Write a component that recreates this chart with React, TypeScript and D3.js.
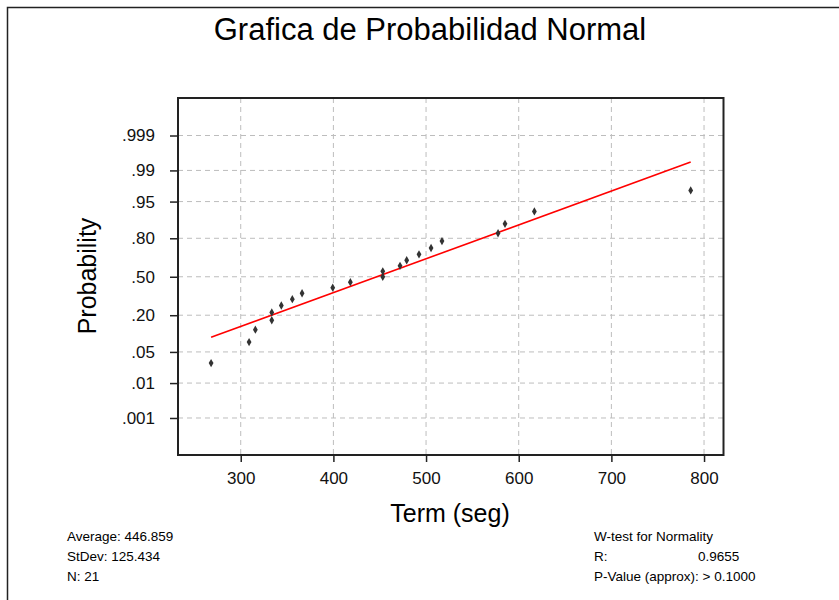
import React, { useRef, useEffect } from 'react';
import { select, scaleLinear, axisBottom, axisLeft, line, symbol, symbolDiamond } from 'd3';

// observed times (seg), sorted
const termValues = [268, 309, 315.8, 333.5, 333.5, 343.8, 355.7, 366.2, 399.3, 418.3, 453.3,
  453.3, 471.9, 479.1, 492.4, 505.4, 517.2, 577.7, 585.2, 616.9, 785.6];
// plotted probability of each point
const probValues = [0.0294, 0.0765, 0.1235, 0.1706, 0.2176, 0.2647, 0.3118, 0.3588, 0.4059, 0.4529, 0.5,
  0.5471, 0.5941, 0.6412, 0.6882, 0.7353, 0.7824, 0.8294, 0.8765, 0.9235, 0.9706];

const probTicks = [0.001, 0.01, 0.05, 0.2, 0.5, 0.8, 0.95, 0.99, 0.999];
const probLabels = ['.001', '.01', '.05', '.20', '.50', '.80', '.95', '.99', '.999'];
const termTicks = [300, 400, 500, 600, 700, 800];

const fitMean = 446.859;
const fitSd = 135;

const statsLeft = ['Average: 446.859', 'StDev: 125.434', 'N: 21'];

// inverse normal cdf (Acklam)
function probit(p) {
  const a = [-39.69683028665376, 220.9460984245205, -275.9285104469687, 138.357751867269, -30.66479806614716, 2.506628277459239];
  const b = [-54.47609879822406, 161.5858368580409, -155.6989798598866, 66.80131188771972, -13.28068155288572];
  const c = [-0.007784894002430293, -0.3223964580411365, -2.400758277161838, -2.549732539343734, 4.374664141464968, 2.938163982698783];
  const d = [0.007784695709041462, 0.3224671290700398, 2.445134137142996, 3.754408661907416];
  const pl = 0.02425;
  if (p < pl) {
    const q = Math.sqrt(-2 * Math.log(p));
    return (((((c[0] * q + c[1]) * q + c[2]) * q + c[3]) * q + c[4]) * q + c[5]) / ((((d[0] * q + d[1]) * q + d[2]) * q + d[3]) * q + 1);
  }
  if (p > 1 - pl) {
    const q = Math.sqrt(-2 * Math.log(1 - p));
    return -(((((c[0] * q + c[1]) * q + c[2]) * q + c[3]) * q + c[4]) * q + c[5]) / ((((d[0] * q + d[1]) * q + d[2]) * q + d[3]) * q + 1);
  }
  const q = p - 0.5;
  const r = q * q;
  return (((((a[0] * r + a[1]) * r + a[2]) * r + a[3]) * r + a[4]) * r + a[5]) * q / (((((b[0] * r + b[1]) * r + b[2]) * r + b[3]) * r + b[4]) * r + 1);
}

const W = 839, H = 600;
const left = 178, right = 723.5, top = 98, bottom = 455;
const font = '"Liberation Sans", Arial, sans-serif';

function ProbPlot() {
  const svgRef = useRef(null);

  useEffect(() => {
    const svg = select(svgRef.current);
    svg.selectAll('*').remove();

    const x = scaleLinear().domain([232.3, 821]).range([left, right]);
    const y = scaleLinear().domain([-3.9, 3.9]).range([bottom, top + 0.5]);

    svg.append('rect').attr('width', W).attr('height', H).attr('fill', '#fff');

    // outer frame
    svg.append('path')
      .attr('d', `M7.5,${H} V7.5 H${W}`)
      .attr('fill', 'none').attr('stroke', '#222').attr('stroke-width', 1.5);

    svg.append('text')
      .attr('x', 430).attr('y', 40)
      .attr('text-anchor', 'middle')
      .style('font-family', font).style('font-size', '31px')
      .text('Grafica de Probabilidad Normal');

    // grid
    const grid = svg.append('g')
      .attr('stroke', '#bdbdbd').attr('stroke-width', 1).attr('stroke-dasharray', '5,4');
    grid.selectAll('.vg').data(termTicks).join('line')
      .attr('class', 'vg')
      .attr('x1', d => x(d)).attr('x2', d => x(d))
      .attr('y1', top).attr('y2', bottom);
    grid.selectAll('.hg').data(probTicks).join('line')
      .attr('class', 'hg')
      .attr('x1', left).attr('x2', right)
      .attr('y1', d => y(probit(d))).attr('y2', d => y(probit(d)));

    // axes
    const xAxis = svg.append('g')
      .attr('transform', `translate(0,${bottom})`)
      .call(axisBottom(x).tickValues(termTicks).tickSize(7).tickPadding(10).tickFormat(d => String(d)));
    const yAxis = svg.append('g')
      .attr('transform', `translate(${left},0)`)
      .call(axisLeft(y)
        .tickValues(probTicks.map(probit)).tickSize(8).tickPadding(15)
        .tickFormat((d, i) => probLabels[i]));
    [xAxis, yAxis].forEach(g => {
      g.select('.domain').remove();
      g.selectAll('line').attr('stroke', '#222').attr('stroke-width', 1.5);
      g.selectAll('text').style('font-family', font).style('font-size', '17px').attr('fill', '#111');
    });

    // plot frame
    svg.append('rect')
      .attr('x', left).attr('y', top)
      .attr('width', right - left).attr('height', bottom - top)
      .attr('fill', 'none').attr('stroke', '#222').attr('stroke-width', 2);

    // fitted line
    const xs = [Math.min(...termValues), Math.max(...termValues)];
    const fitLine = line()
      .x(d => x(d))
      .y(d => y((d - fitMean) / fitSd));
    svg.append('path')
      .attr('d', fitLine(xs))
      .attr('fill', 'none').attr('stroke', '#ff0000').attr('stroke-width', 1.6);

    // points
    const sym = symbol().type(symbolDiamond).size(20);
    svg.selectAll('.pt').data(termValues).join('path')
      .attr('class', 'pt')
      .attr('d', sym)
      .attr('fill', '#333')
      .attr('transform', (d, i) => `translate(${x(d)},${y(probit(probValues[i]))})`);

    // axis titles
    svg.append('text')
      .attr('x', 450).attr('y', 522)
      .attr('text-anchor', 'middle')
      .style('font-family', font).style('font-size', '25px')
      .text('Term (seg)');
    svg.append('text')
      .attr('transform', 'translate(96,276) rotate(-90)')
      .attr('text-anchor', 'middle')
      .style('font-family', font).style('font-size', '25px')
      .text('Probability');

    // stats
    const st = svg.append('g').style('font-family', font).style('font-size', '13.5px');
    statsLeft.forEach((s, i) => {
      st.append('text').attr('x', 67).attr('y', 541 + i * 20).text(s);
    });
    st.append('text').attr('x', 594).attr('y', 541).text('W-test for Normality');
    st.append('text').attr('x', 594).attr('y', 561).text('R:');
    st.append('text').attr('x', 698).attr('y', 561).text('0.9655');
    st.append('text').attr('x', 594).attr('y', 581).text('P-Value (approx): > 0.1000');
  }, []);

  return <svg ref={svgRef} width={W} height={H} style={{ position: 'absolute', left: 0, top: 0 }} />;
}

export default function App() {
  return <ProbPlot />;
}
